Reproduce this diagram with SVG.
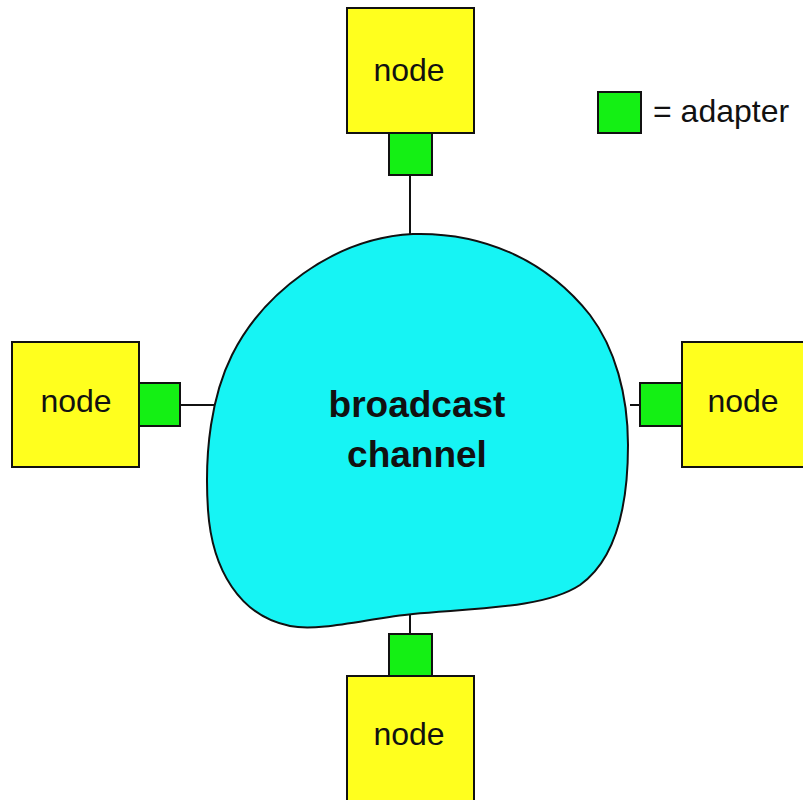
<svg xmlns="http://www.w3.org/2000/svg" width="803" height="800" viewBox="0 0 803 800">
<style>
.node{fill:#ffff1e;stroke:#111;stroke-width:2}
.adapter{fill:#14f014;stroke:#111;stroke-width:2}
.lbl{font-family:"Liberation Sans",Arial,sans-serif;font-size:32px;fill:#111;text-anchor:middle}
.big{font-family:"Liberation Sans",Arial,sans-serif;font-size:37px;font-weight:bold;fill:#111;text-anchor:middle}
.conn line{stroke:#111;stroke-width:2}
</style>
<rect width="803" height="800" fill="#fff"/>
<g id="channel">
<path d="M413,234 C480,232 545,258 590,315 C615,348 628,395 628,445 C628,510 615,560 580,585 C545,608 480,608 413,614 C370,618 320,632 290,626 C240,616 212,570 208,510 C204,450 212,395 232,355 C262,295 332,238 413,234 Z" fill="#16f4f4" stroke="#111" stroke-width="2"/>
<text class="big" x="417" y="417">broadcast</text>
<text class="big" x="417" y="467">channel</text>
</g>
<g class="conn" id="connectors">
<line x1="410" y1="175" x2="410" y2="235"/>
<line x1="180" y1="405" x2="214" y2="405"/>
<line x1="630" y1="405" x2="640" y2="405"/>
<line x1="410" y1="614" x2="410" y2="634"/>
</g>
<g id="node-top">
<rect class="node" x="347" y="8" width="127" height="125"/>
<rect class="adapter" x="389" y="133" width="43" height="42"/>
<text class="lbl" x="409" y="81">node</text>
</g>
<g id="node-left">
<rect class="node" x="12" y="342" width="127" height="125"/>
<rect class="adapter" x="139" y="383" width="41" height="43"/>
<text class="lbl" x="76" y="412">node</text>
</g>
<g id="node-right">
<rect class="node" x="682" y="342" width="127" height="125"/>
<rect class="adapter" x="640" y="383" width="42" height="43"/>
<text class="lbl" x="743" y="412">node</text>
</g>
<g id="node-bottom">
<rect class="node" x="347" y="676" width="127" height="127"/>
<rect class="adapter" x="389" y="634" width="43" height="42"/>
<text class="lbl" x="409" y="745">node</text>
</g>
<g id="legend">
<rect class="adapter" x="598" y="92" width="43" height="41"/>
<text class="lbl" x="653" y="122" style="text-anchor:start">= adapter</text>
</g>
</svg>
